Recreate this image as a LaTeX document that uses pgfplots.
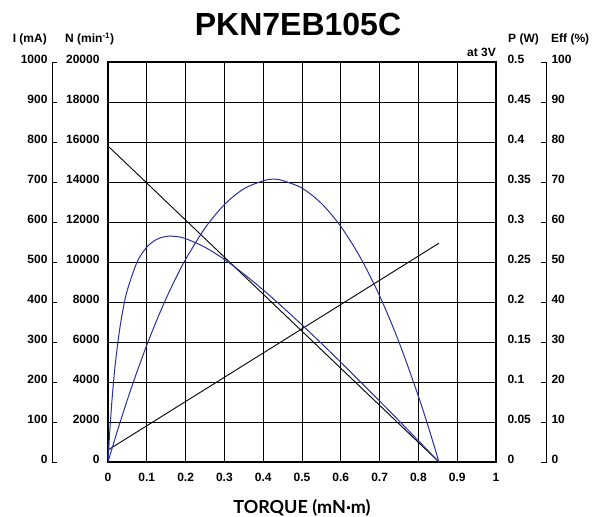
\documentclass[border=0pt]{standalone}
\usepackage{pgfplots}
\pgfplotsset{compat=1.18}
\usepackage{fontspec}
\setmainfont{Liberation Sans}
\newfontfamily\labelfont{Lato}

\definecolor{curveblue}{RGB}{40,50,155}

\pgfplotsset{
  motorbase/.style={
    scale only axis, width=388pt, height=400pt,
    at={(0pt,0pt)}, anchor=south west,
    xmin=0, xmax=1,
    scaled ticks=false,
    ticklabel style={font=\fontsize{12}{12}\selectfont\bfseries},
  },
  ghost/.style={
    axis line style={draw=none},
    xtick=\empty,
    major tick length=0pt,
  },
}

\begin{document}
\begin{tikzpicture}

% speed N (min^-1), grid and frame
\begin{axis}[motorbase,
    ymin=0, ymax=20000,
    grid=major,
    major grid style={black, line width=0.8pt},
    axis line style={line width=1.6pt},
    major tick length=0pt,
    xtick={0,0.1,...,1.0},
    xticklabels={0,0.1,0.2,0.3,0.4,0.5,0.6,0.7,0.8,0.9,1},
    ytick={0,2000,...,20000},
    yticklabels={0,2000,4000,6000,8000,10000,12000,14000,16000,18000,20000},
    xticklabel style={yshift=-8pt},
    yticklabel style={xshift=-5pt, yshift=3pt},
  ]
  \addplot[black, line width=0.9pt] coordinates {(0,15800) (0.853,0)};
\end{axis}

% current I (mA)
\begin{axis}[motorbase, ghost,
    ymin=0, ymax=1000,
    ytick={0,100,...,1000},
    yticklabels={0,100,200,300,400,500,600,700,800,900,1000},
    yticklabel style={xshift=-57pt, yshift=3pt},
  ]
  \addplot[black, line width=0.9pt] coordinates {(0,30) (0.853,547)};
\end{axis}

% output power P (W)
\begin{axis}[motorbase, ghost,
    ymin=0, ymax=0.5,
    ytick={0,0.05,...,0.5},
    yticklabels={0,0.05,0.1,0.15,0.2,0.25,0.3,0.35,0.4,0.45,0.5},
    yticklabel pos=right,
    yticklabel style={xshift=8pt, yshift=3pt},
  ]
  \addplot[curveblue, line width=1pt, smooth] coordinates {
    (0,0) (0.025,0.0402) (0.05,0.07788) (0.075,0.11319) (0.1,0.14606)
    (0.125,0.17652) (0.15,0.20455) (0.175,0.23015) (0.2,0.25333)
    (0.25,0.29241) (0.3,0.32180) (0.35,0.34148) (0.4,0.35148)
    (0.4265,0.35365) (0.45,0.35178) (0.5,0.34236) (0.55,0.32326)
    (0.6,0.29445) (0.65,0.25594) (0.7,0.20776) (0.75,0.14985)
    (0.8,0.08224) (0.83,0.03703) (0.853,0)
  };
\end{axis}

% efficiency (%)
\begin{axis}[motorbase, ghost,
    ymin=0, ymax=100,
    ytick={0,10,...,100},
    yticklabels={0,10,20,30,40,50,60,70,80,90,100},
    yticklabel pos=right,
    yticklabel style={xshift=52pt, yshift=3pt},
  ]
  \addplot[curveblue, line width=1pt, smooth, tension=0.5] coordinates {
    (0,0) (0.002,3.53) (0.005,8.30) (0.01,15.12) (0.015,20.79) (0.02,25.57)
    (0.03,33.13) (0.04,38.77) (0.05,43.04) (0.075,50.00) (0.1,53.73)
    (0.125,55.63) (0.15,56.39) (0.175,56.38) (0.2,55.84) (0.25,53.69)
    (0.3,50.64) (0.35,47.01) (0.4,43.00) (0.45,38.73) (0.5,34.27)
    (0.55,29.65) (0.6,24.93) (0.65,20.12) (0.7,15.24) (0.75,10.31)
    (0.8,5.32) (0.83,2.32) (0.853,0)
  };
\end{axis}

% scale brackets
\draw[black, line width=0.7pt] (-51pt,400pt) -- (-56pt,400pt) -- (-56pt,0pt) -- (-51pt,0pt);
\foreach \y in {40,80,...,360} \draw[black, line width=0.7pt] (-56pt,\y pt) -- (-51pt,\y pt);
\draw[black, line width=0.7pt] (433pt,400pt) -- (438pt,400pt) -- (438pt,0pt) -- (433pt,0pt);
\foreach \y in {40,80,...,360} \draw[black, line width=0.7pt] (438pt,\y pt) -- (433pt,\y pt);

% headings
\node[anchor=east, inner sep=0pt, font=\fontsize{12}{12}\selectfont\bfseries] at (-61pt,423pt) {I (mA)};
\node[anchor=west, inner sep=0pt, font=\fontsize{12}{12}\selectfont\bfseries] at (-43pt,423pt) {N (min\textsuperscript{-1})};
\node[anchor=west, inner sep=0pt, font=\fontsize{12}{12}\selectfont\bfseries] at (400pt,423pt) {P (W)};
\node[anchor=west, inner sep=0pt, font=\fontsize{12}{12}\selectfont\bfseries] at (443pt,423pt) {Eff (\%)};
\node[anchor=east, inner sep=0pt, font=\fontsize{12}{12}\selectfont\bfseries] at (388pt,410pt) {at 3V};
\node[inner sep=0pt, font=\fontsize{32}{32}\selectfont\bfseries] at (190pt,438pt) {PKN7EB105C};
\node[inner sep=0pt, font=\labelfont\fontsize{18}{18}\selectfont\bfseries] at (194pt,-46pt) {TORQUE (mN·m)};

\pgfresetboundingbox
\path[use as bounding box] (-108pt,-55pt) rectangle (487pt,462pt);
\end{tikzpicture}
\end{document}
